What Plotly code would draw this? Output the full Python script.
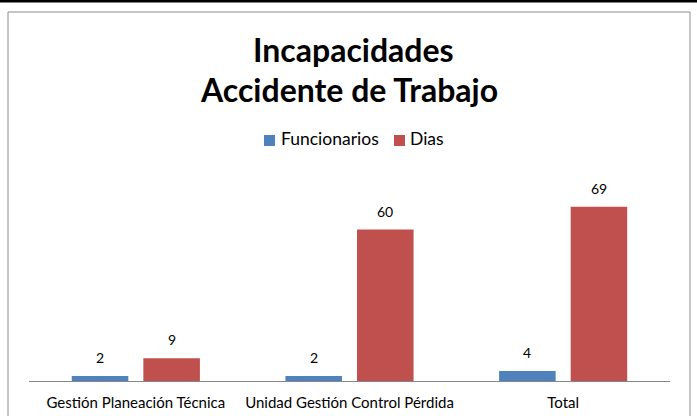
import plotly.graph_objects as go

categories = ["Gestión Planeación Técnica", "Unidad Gestión Control Pérdida", "Total"]
funcionarios = [2, 2, 4]
dias = [9, 60, 69]
series_names = ["Funcionarios", "Dias"]
series_colors = ["#4F81BD", "#C0504D"]

W, H = 697, 416
L, R, T, B = 29, 27, 179, 35
pw, ph = W - L - R, H - T - B
BARGAP, GROUPGAP = 0.33, 0.21
FONT = "Lato"

def px(x):
    return (x - L) / pw

def py(y):
    return (H - B - y) / ph

fig = go.Figure()
for name, vals, col in zip(series_names, [funcionarios, dias], series_colors):
    fig.add_trace(go.Bar(name=name, x=categories, y=vals,
                         marker=dict(color=col, line=dict(width=0)),
                         showlegend=False))

# data labels above bars
cw = pw / len(categories)
slot = (1 - BARGAP) * cw / 2
annotations = []
for i, vals in enumerate([funcionarios, dias]):
    off = (i - 0.5) * slot
    for c, v in zip(categories, vals):
        annotations.append(dict(x=c, y=v, xref="x", yref="y", text=str(v), showarrow=False,
                                xanchor="center", yanchor="bottom", xshift=off, yshift=8,
                                font=dict(family=FONT, size=14, color="#000000")))

# title
annotations += [
    dict(text="<b>Incapacidades</b>", xref="paper", yref="paper", x=px(353.5), y=py(49.5),
         xanchor="center", yanchor="middle", showarrow=False,
         font=dict(family=FONT, size=32, color="#000000")),
    dict(text="<b>Accidente de Trabajo</b>", xref="paper", yref="paper", x=px(349), y=py(89.5),
         xanchor="center", yanchor="middle", showarrow=False,
         font=dict(family=FONT, size=32, color="#000000")),
]

# manual legend
leg_items = [(264, 280), (394, 409)]
shapes = [
    dict(type="rect", xref="paper", yref="paper", x0=px(8), x1=px(690), y0=py(12), y1=py(430),
         line=dict(color="#8C8C8C", width=1), fillcolor="rgba(0,0,0,0)", layer="below"),
    dict(type="line", xref="paper", yref="paper", x0=px(-5), x1=px(705), y0=py(1), y1=py(1),
         line=dict(color="#000000", width=3)),
]
for (sx, tx), name, col in zip(leg_items, series_names, series_colors):
    shapes.append(dict(type="rect", xref="paper", yref="paper", x0=px(sx), x1=px(sx + 11),
                       y0=py(146), y1=py(135), line=dict(width=0), fillcolor=col))
    annotations.append(dict(text=name, xref="paper", yref="paper", x=px(tx - 1), y=py(138.5),
                            xanchor="left", yanchor="middle", showarrow=False,
                            font=dict(family=FONT, size=17.5, color="#000000")))

fig.update_layout(
    width=W, height=H,
    margin=dict(l=L, r=R, t=T, b=B),
    paper_bgcolor="white", plot_bgcolor="white",
    barmode="group", bargap=BARGAP, bargroupgap=GROUPGAP,
    font=dict(family=FONT, size=14, color="#000000"),
    showlegend=False,
    xaxis=dict(showline=True, linecolor="#868686", linewidth=1, ticks="",
               tickfont=dict(family=FONT, size=15, color="#000000"),
               ticklabelstandoff=8, automargin=False, showgrid=False, zeroline=False),
    yaxis=dict(range=[0, 80], visible=False, showgrid=False, zeroline=False, automargin=False),
    shapes=shapes,
    annotations=annotations,
)

fig.write_html("out.html", config={"displayModeBar": False},
               post_script="document.body.style.margin='0';")
